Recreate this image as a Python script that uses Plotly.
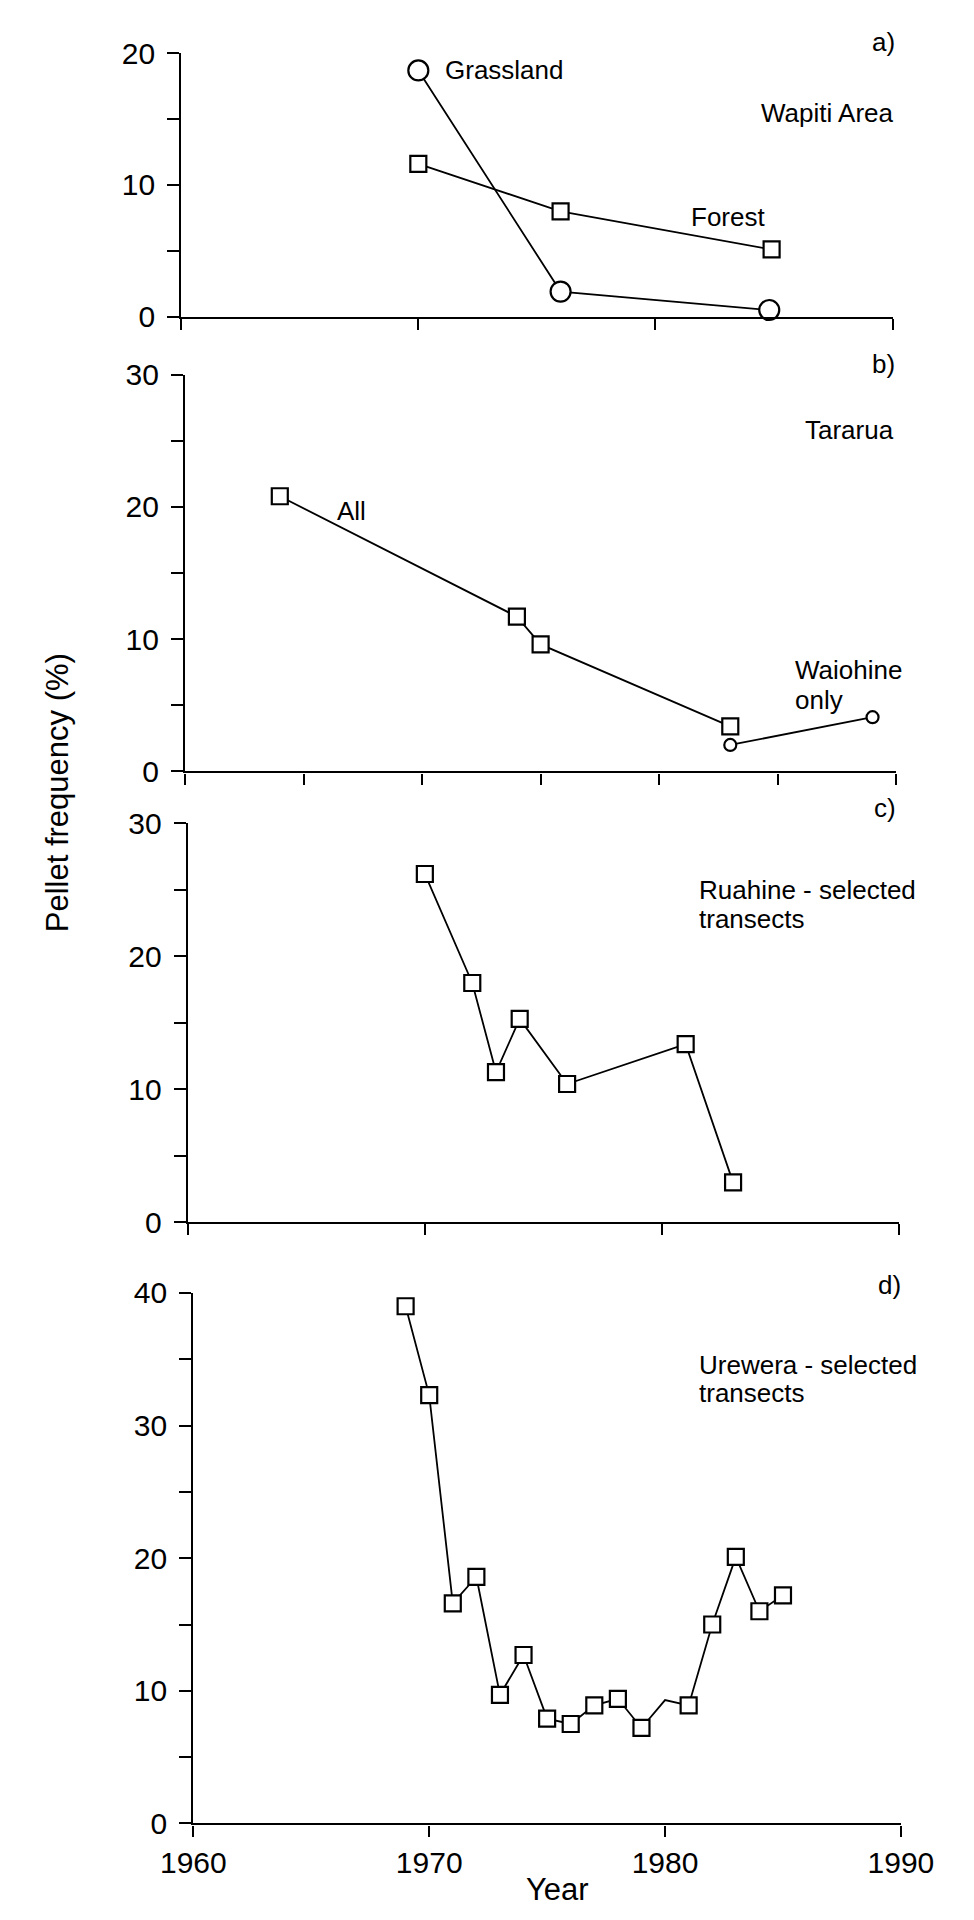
import plotly.graph_objects as go

# ---------------- data ----------------
# a) Wapiti Area
a_grass_years = [1970, 1976, 1984.8]
a_grass_vals = [18.7, 1.9, 0.5]
a_forest_years = [1970, 1976, 1984.9]
a_forest_vals = [11.6, 8.0, 5.1]

# b) Tararua
b_all_years = [1964, 1974, 1975, 1983]
b_all_vals = [20.8, 11.7, 9.6, 3.4]
b_waio_years = [1983, 1989]
b_waio_vals = [2.0, 4.1]

# c) Ruahine - selected transects
c_years = [1970, 1972, 1973, 1974, 1976, 1981, 1983]
c_vals = [26.2, 18.0, 11.3, 15.3, 10.4, 13.4, 3.0]

# d) Urewera - selected transects
d_years = [1969, 1970, 1971, 1972, 1973, 1974, 1975, 1976, 1977, 1978,
           1979, 1980, 1981, 1982, 1983, 1984, 1985]
d_vals = [39.0, 32.3, 16.6, 18.6, 9.7, 12.7, 7.9, 7.5, 8.9, 9.4,
          7.2, 9.3, 8.9, 15.0, 20.1, 16.0, 17.2]
d_unmarked_years = [1980]   # point on the line without a symbol

x_ticks_decade = [1960, 1970, 1980, 1990]
x_ticks_5yr = [1960, 1965, 1970, 1975, 1980, 1985, 1990]
x_tick_labels = ["1960", "1970", "1980", "1990"]

# ---------------- layout helpers ----------------
W, H = 974, 1920
FONT = "Liberation Sans, Arial, sans-serif"


def px(x):
    return x / W


def py(y):
    return 1 - y / H


panels = {
    # name: (left, right, top, bottom) in pixels
    "a": (159, 922, 37, 305),
    "b": (163, 926, 364, 768),
    "c": (166, 929, 821, 1227),
    "d": (172, 931, 1299, 1839),
}

fig = go.Figure()

LINE = dict(color="black", width=1.8)


def sq(size=16):
    return dict(symbol="square", size=size, color="white",
                line=dict(color="black", width=2.2))


def circ(size):
    return dict(symbol="circle", size=size, color="white",
                line=dict(color="black", width=2.2))


# a
fig.add_trace(go.Scatter(x=a_grass_years, y=a_grass_vals, mode="lines+markers",
                         line=LINE, marker=circ(20), xaxis="x", yaxis="y",
                         cliponaxis=False))
fig.add_trace(go.Scatter(x=a_forest_years, y=a_forest_vals, mode="lines+markers",
                         line=LINE, marker=sq(), xaxis="x", yaxis="y",
                         cliponaxis=False))
# b
fig.add_trace(go.Scatter(x=b_all_years, y=b_all_vals, mode="lines+markers",
                         line=LINE, marker=sq(), xaxis="x2", yaxis="y2",
                         cliponaxis=False))
fig.add_trace(go.Scatter(x=b_waio_years, y=b_waio_vals, mode="lines+markers",
                         line=LINE, marker=circ(12), xaxis="x2", yaxis="y2",
                         cliponaxis=False))
# c
fig.add_trace(go.Scatter(x=c_years, y=c_vals, mode="lines+markers",
                         line=LINE, marker=sq(), xaxis="x3", yaxis="y3",
                         cliponaxis=False))
# d
fig.add_trace(go.Scatter(x=d_years, y=d_vals, mode="lines",
                         line=LINE, xaxis="x4", yaxis="y4", cliponaxis=False))
dm_x = [x for x in d_years if x not in d_unmarked_years]
dm_y = [v for x, v in zip(d_years, d_vals) if x not in d_unmarked_years]
fig.add_trace(go.Scatter(x=dm_x, y=dm_y, mode="markers",
                         marker=sq(), xaxis="x4", yaxis="y4", cliponaxis=False))

axis_common = dict(showgrid=False, zeroline=False, showline=True,
                   linecolor="black", linewidth=2.2, ticks="outside",
                   tickcolor="black", tickwidth=1.8,
                   tickfont=dict(family=FONT, size=30, color="black"))

y_specs = {
    "a": (20, [0, 5, 10, 15, 20], ["0", "", "10", "", "20"]),
    "b": (30, [0, 5, 10, 15, 20, 25, 30], ["0", "", "10", "", "20", "", "30"]),
    "c": (30, [0, 5, 10, 15, 20, 25, 30], ["0", "", "10", "", "20", "", "30"]),
    "d": (40, [0, 5, 10, 15, 20, 25, 30, 35, 40],
          ["0", "", "10", "", "20", "", "30", "", "40"]),
}
x_specs = {
    "a": (x_ticks_decade, ["", "", "", ""]),
    "b": (x_ticks_5yr, [""] * 7),
    "c": (x_ticks_decade, ["", "", "", ""]),
    "d": (x_ticks_decade, x_tick_labels),
}

for i, name in enumerate(["a", "b", "c", "d"]):
    l, r, t, b = panels[name]
    suffix = "" if i == 0 else str(i + 1)
    ymax, yt, ytt = y_specs[name]
    xt, xtt = x_specs[name]
    fig.layout["xaxis" + suffix] = dict(
        axis_common, domain=[px(l), px(r)], range=[1960, 1990],
        tickvals=xt, ticktext=xtt, ticklen=11,
        anchor="y" + suffix)
    fig.layout["yaxis" + suffix] = dict(
        axis_common, domain=[py(b), py(t)], range=[0, ymax],
        tickvals=yt, ticktext=ytt, ticklen=12, ticklabelstandoff=6,
        anchor="x" + suffix)

TF = dict(family=FONT, size=26, color="black")


def note(text, x, y, xanchor="left", font=TF):
    fig.add_annotation(text=text, x=px(x), y=py(y), xref="paper", yref="paper",
                       xanchor=xanchor, yanchor="middle", showarrow=False,
                       font=font, align="left")


# a
note("a)", 927, 25, "right")
note("Grassland", 440, 54)
note("Wapiti Area", 926, 98, "right")
note("Forest", 745, 204, "center")
# b
note("b)", 927, 353, "right")
note("Tararua", 926, 420, "right")
note("All", 324, 503)
note("Waiohine", 815, 665)
note("only", 815, 695)
# c
note("c)", 928, 805, "right")
note("Ruahine - selected", 712, 889)
note("transects", 712, 918)
# d
note("d)", 933, 1291, "right")
note("Urewera - selected", 712, 1372)
note("transects", 712, 1401)

# axis titles
TT = dict(family=FONT, size=31, color="black")
fig.add_annotation(text="Year", x=px(563), y=py(1906), xref="paper",
                   yref="paper", showarrow=False, font=TT,
                   xanchor="center", yanchor="middle")
fig.add_annotation(text="Pellet frequency (%)", x=px(26), y=py(790),
                   xref="paper", yref="paper", showarrow=False, font=TT,
                   textangle=-90, xanchor="center", yanchor="middle")

fig.update_layout(width=W, height=H, margin=dict(l=0, r=0, t=0, b=0),
                  paper_bgcolor="white", plot_bgcolor="white",
                  showlegend=False)

fig.write_html("out.html")
